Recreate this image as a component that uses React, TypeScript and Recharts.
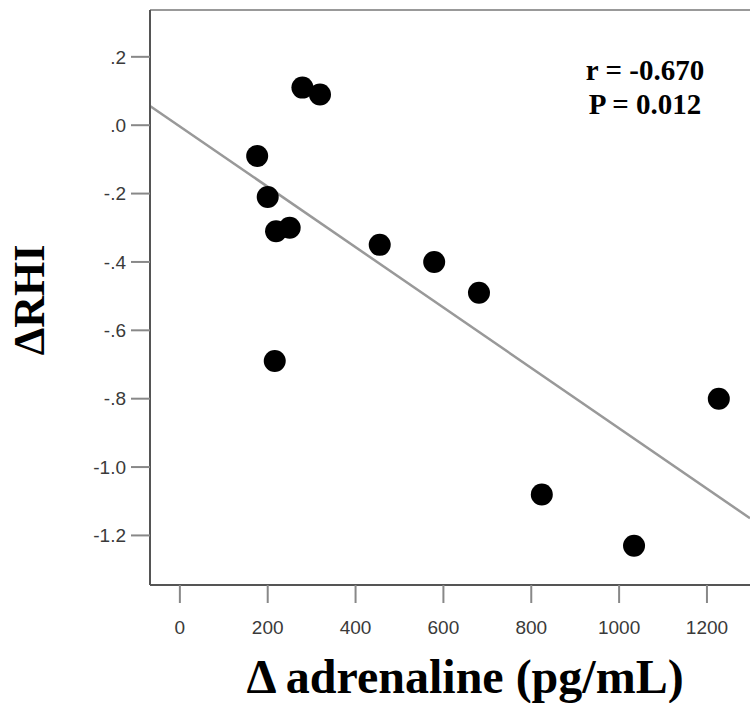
import React from 'react';
import { ScatterChart, Scatter, XAxis, YAxis, ReferenceLine } from 'recharts';

// values
const adrenaline = [176, 200, 219, 250, 216, 279, 319, 455, 579, 681, 824, 1034, 1227];
const rhi = [-0.09, -0.21, -0.31, -0.30, -0.69, 0.11, 0.09, -0.35, -0.40, -0.49, -1.08, -1.23, -0.80];

const xTicks = [0, 200, 400, 600, 800, 1000, 1200];
const yTicks = [0.2, 0, -0.2, -0.4, -0.6, -0.8, -1.0, -1.2];

const xDomain = [-68, 1298];
const yDomain = [-1.345, 0.337];

// least squares line as drawn
const fitIntercept = -0.0036;
const fitSlope = -0.000883;

const points = adrenaline.map((x, i) => ({ x, y: rhi[i] }));
const fitSegment = xDomain.map(x => ({ x, y: fitIntercept + fitSlope * x }));

const fmtY = (v: number) => v.toFixed(1).replace('0.', '.');

const tickFont = { fontFamily: 'Liberation Sans', fontSize: 19, fill: '#3a3a3a' };
const boldSerif = "'Liberation Serif', 'Times New Roman', serif";

export default function App() {
  return (
    <div style={{ position: 'absolute', left: 0, top: 0, width: 750, height: 703, background: '#fff', overflow: 'hidden' }}>
      <ScatterChart width={750} height={703} margin={{ top: 10, right: 0, bottom: 0, left: 0 }}>
        <XAxis
          type="number"
          dataKey="x"
          domain={xDomain}
          ticks={xTicks}
          allowDataOverflow
          height={118}
          tickSize={18}
          tickMargin={18}
          tick={tickFont}
          stroke="#555"
          strokeWidth={2}
          tickLine={{ stroke: '#888', strokeWidth: 2 }}
        />
        <YAxis
          type="number"
          dataKey="y"
          domain={yDomain}
          ticks={yTicks}
          allowDataOverflow
          width={150}
          tickSize={19}
          tickMargin={5}
          tickFormatter={fmtY}
          tick={tickFont}
          stroke="#555"
          strokeWidth={2}
          tickLine={{ stroke: '#888', strokeWidth: 2 }}
        />
        <ReferenceLine y={yDomain[1]} stroke="#999" strokeWidth={2} ifOverflow="visible" />
        <ReferenceLine segment={fitSegment} stroke="#999" strokeWidth={2.5} ifOverflow="visible" />
        <Scatter data={points} fill="#000" isAnimationActive={false}
          shape={(p: any) => <circle cx={p.cx} cy={p.cy} r={11} fill="#000" />} />
      </ScatterChart>

      <div style={{ position: 'absolute', left: 0, top: 300, width: 70, height: 0 }}>
        <div style={{
          position: 'absolute', left: 0, top: -25, width: 200, marginLeft: -70, textAlign: 'center',
          transform: 'rotate(-90deg)', fontFamily: boldSerif, fontWeight: 'bold', fontSize: 44, lineHeight: '50px'
        }}>ΔRHI</div>
      </div>
      <div style={{
        position: 'absolute', left: 165, width: 600, top: 654, textAlign: 'center',
        fontFamily: boldSerif, fontWeight: 'bold', fontSize: 48, lineHeight: '46px'
      }}>Δ adrenaline (pg/mL)</div>
      <div style={{
        position: 'absolute', left: 560, width: 170, top: 53, textAlign: 'center',
        fontFamily: boldSerif, fontWeight: 'bold', fontSize: 29, lineHeight: '34px'
      }}>
        <div>r = -0.670</div>
        <div>P = 0.012</div>
      </div>
    </div>
  );
}
